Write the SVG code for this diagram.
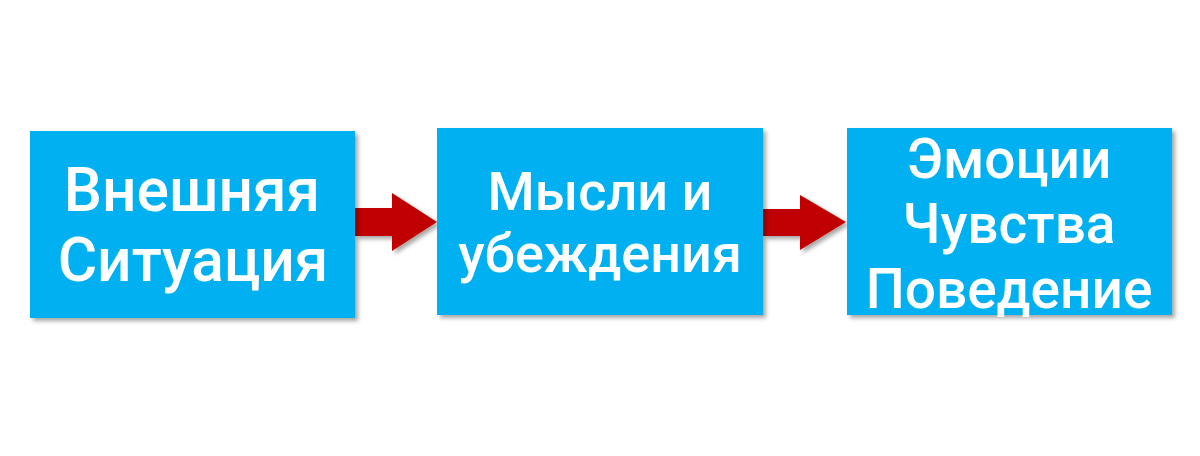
<svg xmlns="http://www.w3.org/2000/svg" width="1200" height="456" viewBox="0 0 1200 456">
  <defs>
    <filter id="sh" x="-10%" y="-10%" width="125%" height="130%">
      <feDropShadow dx="3" dy="3" stdDeviation="2" flood-color="#000" flood-opacity="0.35"/>
    </filter>
    <style>
      .box { fill: #00B0F0; filter: url(#sh); }
      .arrow { fill: #C00000; filter: url(#sh); }
      .lbl { font-family: Roboto, "Liberation Sans", sans-serif; font-weight: 500; fill: #FFFFFF; text-anchor: middle; }
      .s1 { font-size: 60.5px; }
      .s2 { font-size: 54px; }
      .s3 { font-size: 55px; }
    </style>
  </defs>
  <rect width="1200" height="456" fill="#FFFFFF"/>
  <g id="connectors">
    <polygon class="arrow" points="355,208 392,208 392,193 437,222 392,251 392,236 355,236"/>
    <polygon class="arrow" points="763,209 800,209 800,195 846,222 800,250 800,236 763,236"/>
  </g>
  <g id="node-situation">
    <rect class="box" x="30" y="131" width="325" height="187"/>
    <text class="lbl s1" x="192" y="211">Внешняя</text>
    <text class="lbl s1" x="193" y="281">Ситуация</text>
  </g>
  <g id="node-thoughts">
    <rect class="box" x="437" y="128" width="326" height="187"/>
    <text class="lbl s2" x="600" y="210">Мысли и</text>
    <text class="lbl s2" x="600" y="272">убеждения</text>
  </g>
  <g id="node-emotions">
    <rect class="box" x="847" y="128" width="325" height="187"/>
    <text class="lbl s3" x="1009" y="178">Эмоции</text>
    <text class="lbl s3" x="1009" y="243">Чувства</text>
    <text class="lbl s3" x="1009" y="308">Поведение</text>
  </g>
</svg>
